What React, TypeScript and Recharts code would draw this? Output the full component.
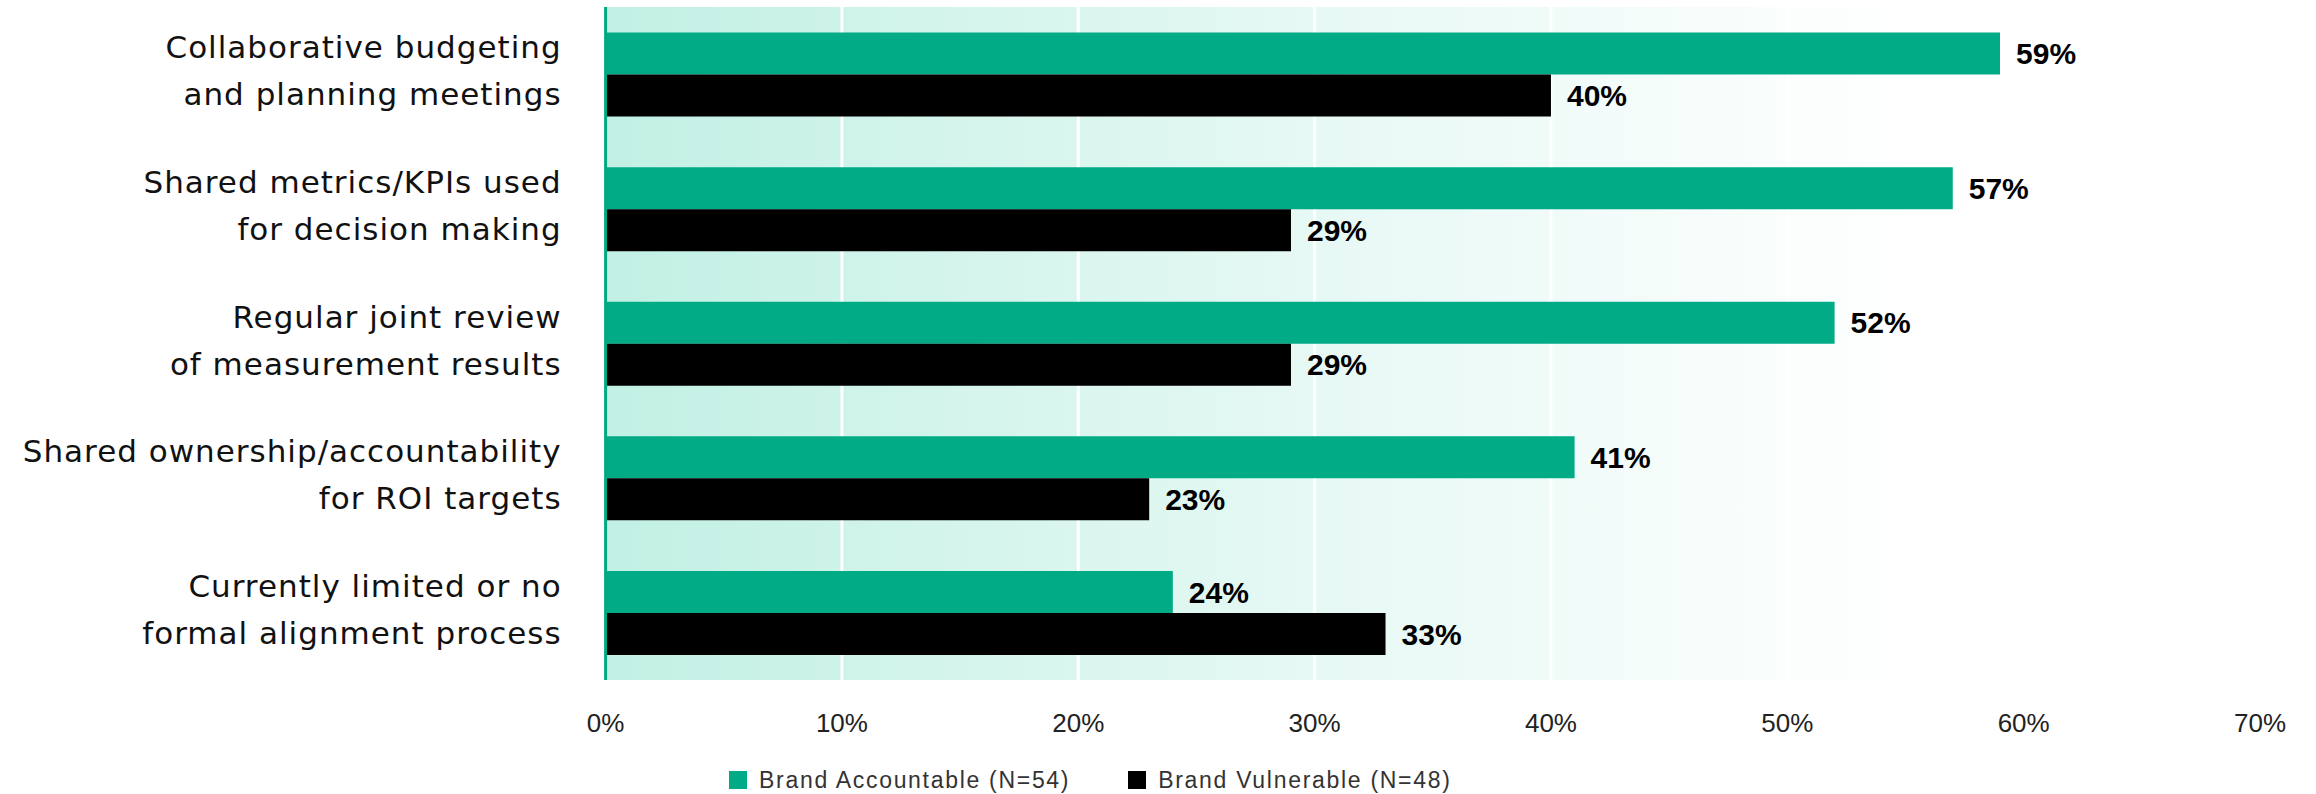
import React from "react";
import {
  BarChart,
  Bar,
  XAxis,
  YAxis,
  CartesianGrid,
  Legend,
  LabelList,
} from "recharts";

const categories: string[][] = [
  ["Collaborative budgeting", "and planning meetings"],
  ["Shared metrics/KPIs used", "for decision making"],
  ["Regular joint review", "of measurement results"],
  ["Shared ownership/accountability", "for ROI targets"],
  ["Currently limited or no", "formal alignment process"],
];
const brandAccountable = [59, 57, 52, 41, 24];
const brandVulnerable = [40, 29, 29, 23, 33];
const xTicks = [0, 10, 20, 30, 40, 50, 60, 70];
const seriesNames = ["Brand Accountable (N=54)", "Brand Vulnerable (N=48)"];

const data = categories.map((c, i) => ({
  name: c.join("\n"),
  accountable: brandAccountable[i],
  vulnerable: brandVulnerable[i],
}));

const GREEN = "#00ab85";
const BLACK = "#000000";

const YTick = (props: any) => {
  const { x, y, payload } = props;
  const lines = String(payload.value).split("\n");
  return (
    <text
      x={x - 44}
      y={y}
      textAnchor="end"
      fontFamily="DejaVu Sans"
      fontSize={31}
      letterSpacing={1.0}
      fill="#111"
    >
      <tspan x={x - 44} y={y - 16}>{lines[0]}</tspan>
      <tspan x={x - 44} y={y + 31}>{lines[1]}</tspan>
    </text>
  );
};

const XTick = (props: any) => {
  const { x, y, payload } = props;
  return (
    <text
      x={x}
      y={y + 52}
      textAnchor="middle"
      fontFamily="Liberation Sans"
      fontSize={26}
      fill="#222"
    >
      {payload.value}%
    </text>
  );
};

const LegendContent = (props: any) => {
  const items = props.payload || [];
  return (
    <div style={{ display: "flex", alignItems: "center", height: 24 }}>
      {items.map((it: any, i: number) => (
        <div
          key={i}
          style={{ display: "flex", alignItems: "center", marginRight: 58 }}
        >
          <div
            style={{ width: 18, height: 18, background: it.color, marginRight: 12 }}
          />
          <span
            style={{
              fontFamily: "Liberation Sans",
              fontSize: 23,
              letterSpacing: 1.7,
              color: "#333",
              whiteSpace: "nowrap",
            }}
          >
            {it.value}
          </span>
        </div>
      ))}
    </div>
  );
};

export default function App() {
  return (
    <div style={{ position: "absolute", left: 0, top: 0, width: 2316, height: 794, background: "#fff" }}>
      <BarChart
        width={2316}
        height={794}
        data={data}
        layout="vertical"
        margin={{ top: 7, right: 56, bottom: 30, left: 405.6 }}
        barCategoryGap="19%"
        barGap={0}
      >
        <defs>
          <linearGradient id="bgGrad" x1="0" y1="0" x2="1" y2="0">
            <stop offset="0" stopColor="#c2f0e4" />
            <stop offset="0.45" stopColor="#e8f9f5" />
            <stop offset="0.79" stopColor="#ffffff" />
            <stop offset="1" stopColor="#ffffff" />
          </linearGradient>
        </defs>
        <CartesianGrid
          horizontal={false}
          vertical={true}
          stroke="#ffffff"
          strokeWidth={3}
          fill="url(#bgGrad)"
          fillOpacity={1}
        />
        <XAxis
          type="number"
          domain={[0, 70]}
          ticks={xTicks}
          interval={0}
          axisLine={false}
          tickLine={false}
          tickSize={0}
          tickMargin={0}
          height={60}
          tick={<XTick />}
        />
        <YAxis
          type="category"
          dataKey="name"
          width={200}
          axisLine={{ stroke: "#00a982", strokeWidth: 3 }}
          tickLine={false}
          tickSize={0}
          tickMargin={0}
          interval={0}
          tick={<YTick />}
        />
        <Legend
          verticalAlign="bottom"
          content={<LegendContent />}
          wrapperStyle={{ position: "absolute", left: 729, top: 768, bottom: "auto", width: "auto" }}
        />
        <Bar dataKey="accountable" name={seriesNames[0]} fill={GREEN} isAnimationActive={false}>
          <LabelList
            dataKey="accountable"
            position="right"
            offset={16}
            formatter={(v: any) => `${v}%`}
            fontFamily="Liberation Sans"
            fontSize={30}
            fontWeight={700}
            fill="#000"
          />
        </Bar>
        <Bar dataKey="vulnerable" name={seriesNames[1]} fill={BLACK} isAnimationActive={false}>
          <LabelList
            dataKey="vulnerable"
            position="right"
            offset={16}
            formatter={(v: any) => `${v}%`}
            fontFamily="Liberation Sans"
            fontSize={30}
            fontWeight={700}
            fill="#000"
          />
        </Bar>
      </BarChart>
    </div>
  );
}
